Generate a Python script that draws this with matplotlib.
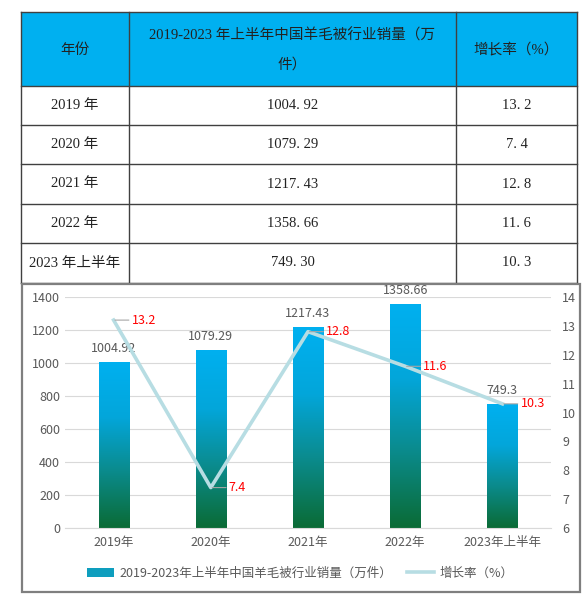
import numpy as np
import matplotlib.pyplot as plt
from matplotlib.colors import LinearSegmentedColormap
from matplotlib.patches import Rectangle
from matplotlib.lines import Line2D

plt.rcParams['font.family'] = ['Noto Sans CJK SC', 'DejaVu Sans']

# --- datos ---
categorias = ['2019年', '2020年', '2021年', '2022年', '2023年上半年']
filas_tabla = ['2019 年', '2020 年', '2021 年', '2022 年', '2023 年上半年']
ventas = [1004.92, 1079.29, 1217.43, 1358.66, 749.30]
ventas_txt = ['1004.92', '1079.29', '1217.43', '1358.66', '749.3']
ventas_tabla = ['1004. 92', '1079. 29', '1217. 43', '1358. 66', '749. 30']
crecimiento = [13.2, 7.4, 12.8, 11.6, 10.3]
crec_tabla = ['13. 2', '7. 4', '12. 8', '11. 6', '10. 3']
cab = ['年份', '2019-2023 年上半年中国羊毛被行业销量（万\n件）', '增长率（%）']
serie_barras = '2019-2023年上半年中国羊毛被行业销量（万件）'
serie_linea = '增长率（%）'

W, H = 588, 603
fig = plt.figure(figsize=(W / 100, H / 100), dpi=100)

# --- tabla (coordenadas en pixeles) ---
tab = fig.add_axes([0, 0, 1, 1])
tab.set_xlim(0, W)
tab.set_ylim(H, 0)
tab.axis('off')

xs = [21, 129, 456, 577]
ys = [12, 86, 125, 164, 204, 243, 283]
serif = ['Liberation Serif', 'Noto Sans CJK SC']

tab.add_patch(Rectangle((xs[0], ys[0]), xs[-1] - xs[0], ys[1] - ys[0],
                        facecolor='#00B0F0', edgecolor='none', zorder=1))
for xl in xs:
    tab.plot([xl, xl], [ys[0], ys[-1]], color='#404040', lw=1, zorder=2)
for yl in ys:
    tab.plot([xs[0], xs[-1]], [yl, yl], color='#404040', lw=1, zorder=2)

for j, t in enumerate(cab):
    cx = (xs[j] + xs[j + 1]) / 2
    tab.text(cx, (ys[0] + ys[1]) / 2 + 1, t, ha='center', va='center',
             fontsize=10.5, family=serif, color='#222222', linespacing=2.4)

for i in range(len(filas_tabla)):
    cy = (ys[i + 1] + ys[i + 2]) / 2
    fila = [filas_tabla[i], ventas_tabla[i], crec_tabla[i]]
    for j, t in enumerate(fila):
        cx = (xs[j] + xs[j + 1]) / 2
        tab.text(cx, cy, t, ha='center', va='center', fontsize=10.5,
                 family=serif, color='#222222')

# marco del grafico
tab.add_patch(Rectangle((22, 284), 558, 308, facecolor='none',
                        edgecolor='#7F7F7F', lw=1.6, zorder=2))

# --- grafico combinado ---
ax = fig.add_axes([65 / W, (H - 528) / H, 486 / W, 231 / H])
ax2 = ax.twinx()
x = np.arange(len(categorias))

barras = ax.bar(x, ventas, width=0.31, color='none', zorder=2)
cmap = LinearSegmentedColormap.from_list('grad', ['#0A6B35', '#0B8A8A', '#03A6DA', '#00B0F0'])
grad = np.linspace(0, 1, 256).reshape(-1, 1)
for b in barras:
    x0, w, h = b.get_x(), b.get_width(), b.get_height()
    im = ax.imshow(grad, cmap=cmap, origin='lower', aspect='auto',
                   extent=[x0, x0 + w, 0, h], zorder=2)
    im.set_clip_path(b)

for xi, v, t in zip(x, ventas, ventas_txt):
    ax.annotate(t, (xi, v), xytext=(0, 5), textcoords='offset points',
                ha='center', va='bottom', fontsize=9, color='#595959')

ax.set_xlim(-0.5, len(categorias) - 0.5)
ax.set_ylim(0, 1400)
ax.set_yticks(range(0, 1401, 200))
ax.grid(axis='y', color='#D9D9D9', lw=0.8)
ax.set_axisbelow(True)
ax.set_xticks(x)
ax.set_xticklabels(categorias)

ax2.plot(x, crecimiento, color='#B7DDE3', lw=2.6, zorder=3)
for xi, v in zip(x, crecimiento):
    ax2.annotate(f'{v}', (xi, v), xytext=(13, 0), textcoords='offset points',
                 ha='left', va='center', fontsize=9, color='#FF0000',
                 arrowprops=dict(arrowstyle='-', color='#A6A6A6', lw=0.8,
                                 shrinkA=0, shrinkB=1))
ax2.set_ylim(6, 14)
ax2.set_yticks(range(6, 15))

for a in (ax, ax2):
    for s in a.spines.values():
        s.set_visible(False)
    a.tick_params(length=0, labelsize=9, colors='#595959')
ax.spines['bottom'].set_visible(True)
ax.spines['bottom'].set_color('#D9D9D9')
ax.tick_params(axis='x', pad=6)
ax2.tick_params(axis='y', pad=8)

handles = [Rectangle((0, 0), 1, 1, facecolor='#0E9EBE', edgecolor='none'),
           Line2D([], [], color='#B7DDE3', lw=2.6)]
fig.legend(handles, [serie_barras, serie_linea], loc='center',
           bbox_to_anchor=(300 / W, (H - 573) / H), ncol=2, frameon=False,
           fontsize=9, labelcolor='#595959', handlelength=2.2,
           handleheight=0.7, columnspacing=1.2, handletextpad=0.4)

fig.savefig('out.png', dpi=100)
